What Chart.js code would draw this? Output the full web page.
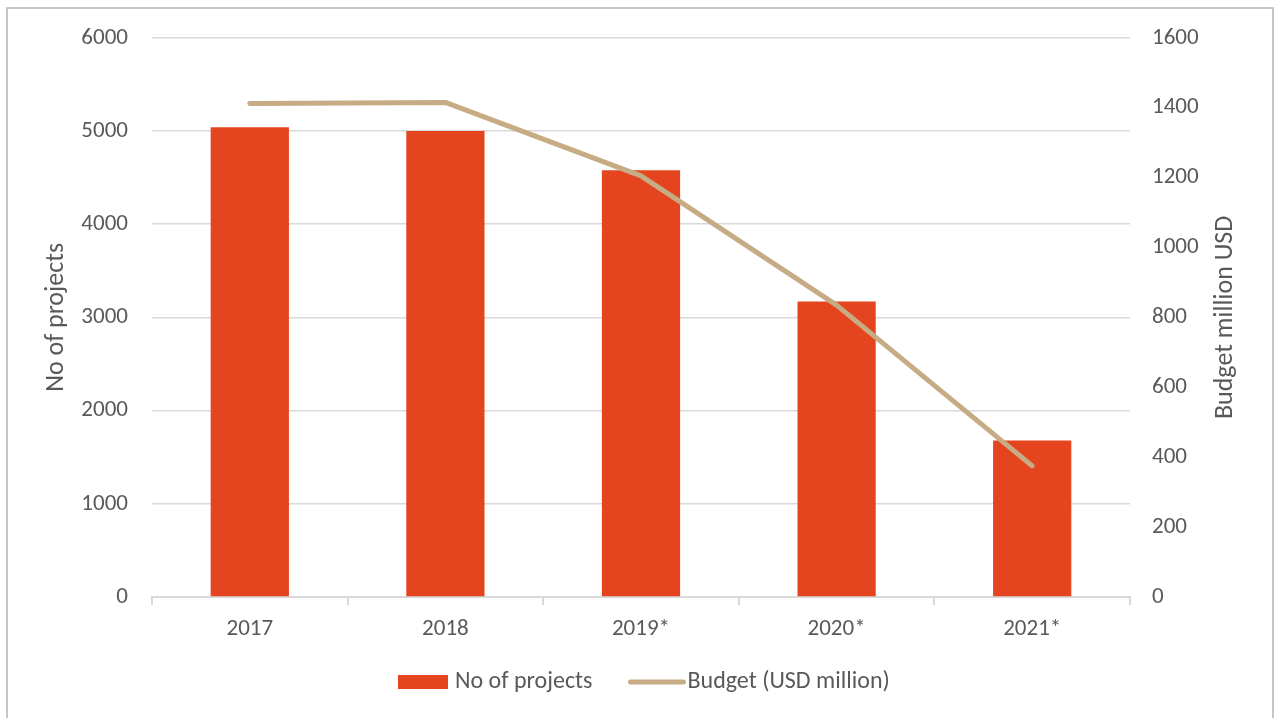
<!DOCTYPE html>
<html>
<head>
<meta charset="utf-8">
<script src="https://cdn.jsdelivr.net/npm/chart.js@4.4.1/dist/chart.umd.min.js"></script>
<style>
  html, body { margin: 0; padding: 0; background: #fff; }
  #wrap { position: relative; width: 1274px; height: 718px; }
  #frame {
    position: absolute; left: 6px; top: 7px; width: 1268px; height: 720px;
    border: 2px solid #c6c6c6; pointer-events: none; box-sizing: border-box;
  }
</style>
</head>
<body>
<div id="wrap">
  <canvas id="chart" width="1274" height="718"></canvas>
  <div id="frame"></div>
</div>
<script>
const years = ["2017", "2018", "2019*", "2020*", "2021*"];
const projects = [5040, 5000, 4580, 3170, 1680];
const budget = [1412, 1415, 1205, 835, 375];

const BAR = "#e4451f";
const LINE = "#c6ab84";
const TEXT = "#595959";
const GRID = "#d9d9d9";
const FONT = "Carlito, 'Open Sans', sans-serif";

// legend under the axis, drawn by hand so the swatches can be sized freely
const bottomLegend = {
  id: "bottomLegend",
  afterDraw(chart) {
    const ctx = chart.ctx;
    const y = 682;
    let x = 398;
    ctx.save();
    ctx.font = "24px " + FONT;
    ctx.textBaseline = "middle";
    chart.data.datasets.forEach(ds => {
      if (ds.type === "line") {
        ctx.strokeStyle = ds.borderColor;
        ctx.lineWidth = 5;
        ctx.lineCap = "round";
        ctx.beginPath();
        ctx.moveTo(x + 3, y);
        ctx.lineTo(x + 56, y);
        ctx.stroke();
        x += 60;
      } else {
        ctx.fillStyle = ds.backgroundColor;
        ctx.fillRect(x, y - 7, 50, 14);
        x += 57;
      }
      ctx.fillStyle = TEXT;
      ctx.fillText(ds.label, x, y);
      x += ctx.measureText(ds.label).width + 35;
    });
    ctx.restore();
  }
};

// right-hand axis title, reading bottom to top like the left one
const rightTitle = {
  id: "rightTitle",
  afterDraw(chart) {
    const ctx = chart.ctx;
    const area = chart.chartArea;
    ctx.save();
    ctx.translate(1225, (area.top + area.bottom) / 2);
    ctx.rotate(-Math.PI / 2);
    ctx.font = "26px " + FONT;
    ctx.fillStyle = TEXT;
    ctx.textAlign = "center";
    ctx.textBaseline = "middle";
    ctx.fillText("Budget million USD", 0, 0);
    ctx.restore();
  }
};

new Chart(document.getElementById("chart"), {
  data: {
    labels: years,
    datasets: [
      {
        type: "bar",
        label: "No of projects",
        data: projects,
        yAxisID: "y",
        backgroundColor: BAR,
        barPercentage: 0.4,
        categoryPercentage: 1,
        order: 1
      },
      {
        type: "line",
        label: "Budget (USD million)",
        data: budget,
        yAxisID: "y1",
        borderColor: LINE,
        backgroundColor: LINE,
        borderWidth: 5,
        borderCapStyle: "round",
        borderJoinStyle: "round",
        pointRadius: 0,
        tension: 0,
        order: 0
      }
    ]
  },
  options: {
    responsive: false,
    animation: false,
    layout: { padding: { left: 37, right: 32, top: 37, bottom: 71 } },
    plugins: {
      legend: { display: false },
      tooltip: { enabled: false }
    },
    scales: {
      x: {
        grid: { drawOnChartArea: false, drawTicks: true, tickLength: 8, color: GRID, lineWidth: 2 },
        border: { display: true, color: GRID, width: 2 },
        ticks: { color: TEXT, font: { family: FONT, size: 23 }, padding: 10 },
        afterFit(scale) { scale.height = 50; }
      },
      y: {
        position: "left",
        min: 0, max: 6000,
        ticks: {
          stepSize: 1000, color: TEXT, font: { family: FONT, size: 23 }, padding: 24,
          callback: v => String(v)
        },
        grid: { color: GRID, lineWidth: 1.5, drawTicks: false },
        border: { display: false },
        title: { display: true, text: "No of projects", color: TEXT, font: { family: FONT, size: 26 } },
        afterFit(scale) { scale.width = 115; }
      },
      y1: {
        position: "right",
        min: 0, max: 1600,
        ticks: {
          stepSize: 200, color: TEXT, font: { family: FONT, size: 23 }, padding: 22,
          callback: v => String(v)
        },
        grid: { display: false, drawTicks: false },
        border: { display: false },
        afterFit(scale) { scale.width = 112; }
      }
    }
  },
  plugins: [bottomLegend, rightTitle]
});
</script>
</body>
</html>
